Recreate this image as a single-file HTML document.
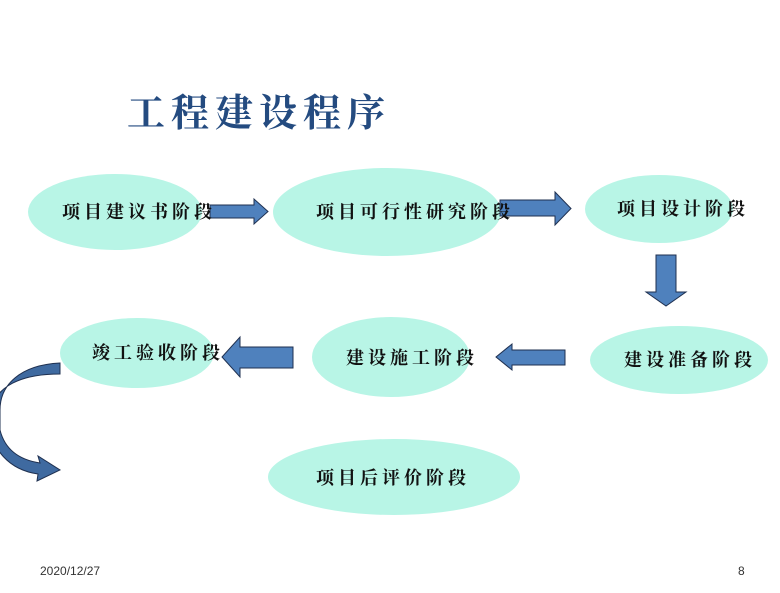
<!DOCTYPE html>
<html><head><meta charset="utf-8"><style>
body{margin:0;background:#fff;}
svg text{font-family:"Liberation Serif","Noto Serif CJK SC",serif;font-weight:bold;}
</style></head><body>
<svg width="780" height="588" viewBox="0 0 780 588" xmlns="http://www.w3.org/2000/svg">
<text x="127" y="126" font-size="38" fill="#244b80" letter-spacing="6">工程建设程序</text>
<g fill="#b8f5e6">
<ellipse cx="115" cy="212" rx="87" ry="38"/>
<ellipse cx="387" cy="212" rx="114" ry="44"/>
<ellipse cx="659" cy="209" rx="74" ry="34"/>
<ellipse cx="679" cy="360" rx="89" ry="34"/>
<ellipse cx="391" cy="357" rx="79" ry="40"/>
<ellipse cx="137" cy="353" rx="77" ry="35"/>
<ellipse cx="394" cy="477" rx="126" ry="38"/>
</g>
<g fill="#4f81bd" stroke="#1f3050" stroke-width="1">
<polygon points="210,205 254,205 254,199 268,211.5 254,224 254,218 210,218"/>
<polygon points="500,200 555,200 555,192 571,208.5 555,225 555,216 500,216"/>
<polygon points="656,255 676,255 676,292 686,292 666,306 646,292 656,292"/>
<polygon points="565,350 512,350 512,344 496,357 512,370 512,365 565,365"/>
<polygon points="293,347 240,347 240,337 222,357 240,377 240,368 293,368"/>
<path d="M60,363 C20,365 0,385 0,410 L0,430 C5,450 20,460 40,463 L38,456 L60,470 L37,481 L38,474 C10,470 -10,450 -10,420 C-10,390 15,374 60,374 Z" fill="#3f6aa0"/>
</g>
<g font-size="18" fill="#111" letter-spacing="4">
<text x="62" y="218">项目建议书阶段</text>
<text x="316" y="218">项目可行性研究阶段</text>
<text x="617" y="215">项目设计阶段</text>
<text x="624" y="366">建设准备阶段</text>
<text x="346" y="364">建设施工阶段</text>
<text x="92" y="359">竣工验收阶段</text>
<text x="316" y="484">项目后评价阶段</text>
</g>
<text x="40" y="575" font-size="12" style="font-family:'Liberation Sans',sans-serif;font-weight:normal" fill="#333">2020/12/27</text>
<text x="738" y="575" font-size="12" style="font-family:'Liberation Sans',sans-serif;font-weight:normal" fill="#333">8</text>
</svg>
</body></html>
